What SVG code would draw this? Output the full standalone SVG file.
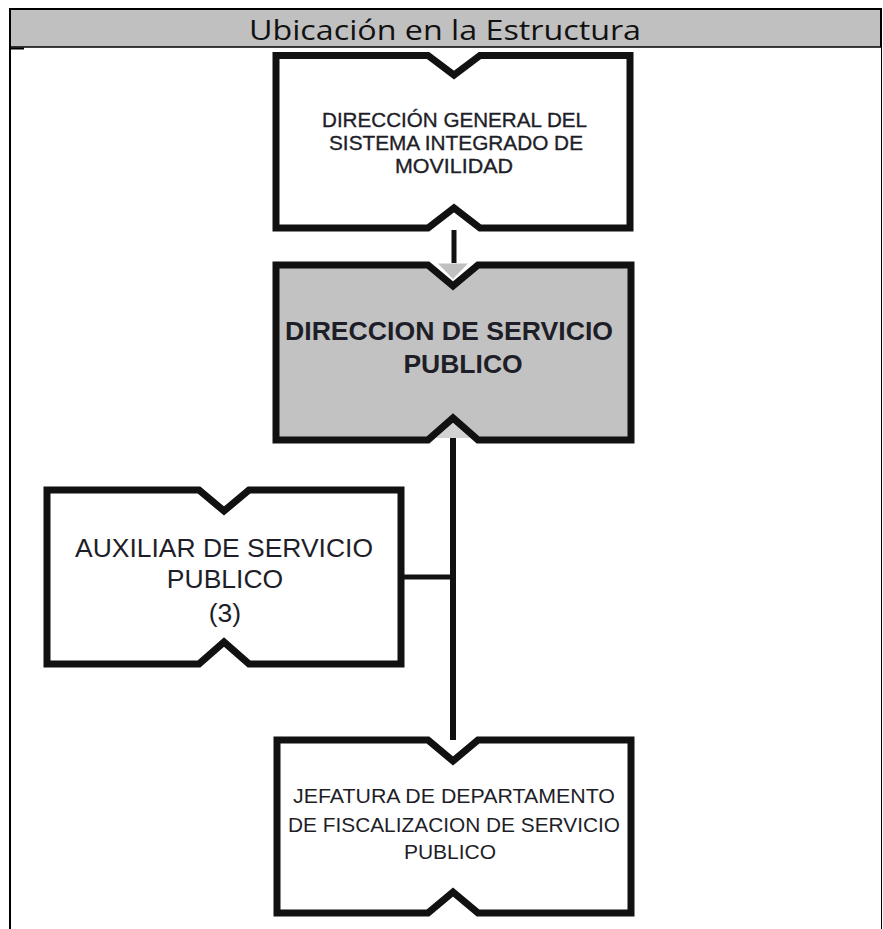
<svg xmlns="http://www.w3.org/2000/svg" width="883" height="929" viewBox="0 0 883 929">
  <style>
    .box { fill: #ffffff; stroke: #111111; stroke-width: 7; stroke-linejoin: miter; }
    .box.main { fill: #c2c2c2; }
    .lbl { font-family: "Liberation Sans", Arial, sans-serif; fill: #1e1e28; text-anchor: middle; }
    .conn { stroke: #111111; fill: none; }
  </style>
  <rect x="0" y="0" width="883" height="929" fill="#ffffff"/>

  <!-- table frame and header -->
  <g id="table">
    <rect x="10" y="9" width="871" height="38" fill="#c0c0c0"/>
    <line x1="9" y1="9" x2="882" y2="9" stroke="#000" stroke-width="2"/>
    <line x1="10" y1="47" x2="881" y2="47" stroke="#000" stroke-width="1.5"/>
    <line x1="10" y1="48.5" x2="24" y2="48.5" stroke="#000" stroke-width="2"/>
    <line x1="10" y1="8" x2="10" y2="929" stroke="#000" stroke-width="2"/>
    <line x1="881" y1="8" x2="881" y2="47" stroke="#000" stroke-width="2"/>
    <line x1="881.5" y1="47" x2="881.5" y2="929" stroke="#000" stroke-width="1"/>
    <text x="445" y="40" font-family="'Open Sans', 'Noto Sans', sans-serif" font-size="28" fill="#111" text-anchor="middle" textLength="392" lengthAdjust="spacingAndGlyphs">Ubicación en la Estructura</text>
  </g>

  <!-- connectors -->
  <g id="connectors">
    <line class="conn" x1="454" y1="230" x2="454" y2="263" stroke-width="5"/>
    <polygon points="438,263.5 468,263.5 453,279" fill="#c0c0c0"/>
    <polygon points="436,438 470,438 453,423" fill="#d2d2d2"/>
    <line class="conn" x1="453" y1="438" x2="453" y2="740" stroke-width="6"/>
    <line class="conn" x1="401" y1="577" x2="453" y2="577" stroke-width="5"/>
  </g>

  <!-- Dirección General del Sistema Integrado de Movilidad -->
  <g id="node-direccion-general">
    <path class="box" d="M276,55.5 H428 L454,75 L480,55.5 H630 V228 H480 L454,208 L428,228 H276 Z"/>
    <g stroke="#1e1e28" stroke-width="0.35">
      <text class="lbl" font-size="21" x="454.5" y="127" textLength="265" lengthAdjust="spacingAndGlyphs">DIRECCIÓN GENERAL DEL</text>
      <text class="lbl" font-size="21" x="456" y="150" textLength="254" lengthAdjust="spacingAndGlyphs">SISTEMA INTEGRADO DE</text>
      <text class="lbl" font-size="21" x="454" y="173" textLength="118" lengthAdjust="spacingAndGlyphs">MOVILIDAD</text>
    </g>
  </g>

  <!-- Dirección de Servicio Público -->
  <g id="node-direccion-servicio">
    <path class="box main" d="M276,265 H428 L453,286 L478,265 H631 V440 H478 L453,418 L428,440 H276 Z"/>
    <text class="lbl" font-size="26.5" font-weight="bold" x="449" y="340" textLength="328" lengthAdjust="spacingAndGlyphs">DIRECCION DE SERVICIO</text>
    <text class="lbl" font-size="26.5" font-weight="bold" x="463" y="373">PUBLICO</text>
  </g>

  <!-- Auxiliar de Servicio Público -->
  <g id="node-auxiliar">
    <path class="box" d="M47,490 H199 L224,511 L249,490 H401 V664 H249 L224,642 L199,664 H47 Z"/>
    <text class="lbl" font-size="26.5" x="224" y="557" textLength="298" lengthAdjust="spacingAndGlyphs">AUXILIAR DE SERVICIO</text>
    <text class="lbl" font-size="26.5" x="225" y="588">PUBLICO</text>
    <text class="lbl" font-size="26.5" x="225" y="622">(3)</text>
  </g>

  <!-- Jefatura de Departamento de Fiscalización de Servicio Público -->
  <g id="node-jefatura">
    <path class="box" d="M277,740 H428 L453,761 L478,740 H631 V913 H478 L453,892 L428,913 H277 Z"/>
    <text class="lbl" font-size="21" x="454" y="803" textLength="322" lengthAdjust="spacingAndGlyphs">JEFATURA DE DEPARTAMENTO</text>
    <text class="lbl" font-size="21" x="454" y="832" textLength="332" lengthAdjust="spacingAndGlyphs">DE FISCALIZACION DE SERVICIO</text>
    <text class="lbl" font-size="21" x="450" y="859">PUBLICO</text>
  </g>
</svg>
